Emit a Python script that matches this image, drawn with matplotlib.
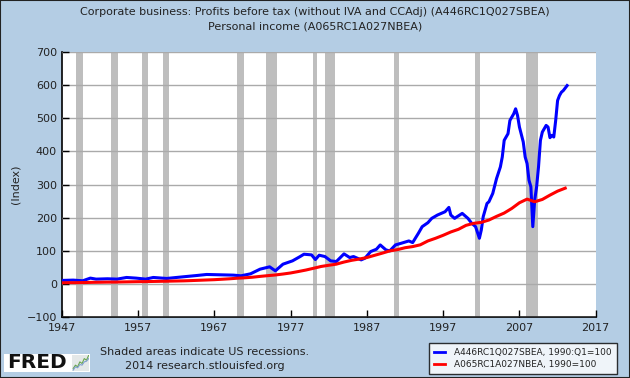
import numpy as np
import matplotlib
matplotlib.use('Agg')
import matplotlib.pyplot as plt
from matplotlib.patches import Rectangle

# Corporate profits before tax (A446RC1Q027SBEA), index 1990:Q1=100
profit_dates = [1947.0, 1948.5, 1949.75, 1950.75, 1951.5, 1953.0, 1954.25, 1955.5, 1956.75,
                1958.0, 1959.0, 1960.75, 1962.5, 1964.75, 1966.0, 1967.75, 1969.5, 1970.5,
                1971.75, 1973.0, 1974.25, 1975.0, 1976.0, 1977.25, 1978.25, 1978.75, 1979.75,
                1980.25, 1980.75, 1981.5, 1982.25, 1983.0, 1984.0, 1984.75, 1985.25, 1986.25,
                1986.75, 1987.5, 1988.25, 1988.75, 1989.5, 1990.0, 1990.75, 1991.5, 1992.5,
                1993.0, 1993.75, 1994.25, 1995.0, 1995.5, 1996.25, 1997.25, 1997.75, 1998.0,
                1998.5, 1999.5, 2000.25, 2000.75, 2001.25, 2001.75, 2002.0, 2002.25, 2002.75,
                2003.0, 2003.5, 2004.0, 2004.5, 2004.75, 2005.0, 2005.5, 2005.75, 2006.25,
                2006.5, 2006.75, 2007.0, 2007.5, 2007.75, 2008.0, 2008.25, 2008.5, 2008.75,
                2009.0, 2009.25, 2009.5, 2009.75, 2010.0, 2010.5, 2010.75, 2011.0, 2011.25,
                2011.5, 2011.75, 2012.0, 2012.25, 2012.5, 2012.75, 2013.25]
profit_index = [11, 12, 10, 18, 15, 16, 15, 20, 18,
                15, 20, 17, 21, 26, 29, 28, 27, 25,
                31, 45, 52, 40, 60, 70, 83, 90, 88,
                74, 87, 83, 70, 68, 91, 80, 83, 73,
                78, 98, 105, 118, 103, 100, 118, 123, 130,
                125, 153, 173, 185, 198, 208, 218, 231, 208,
                198, 213, 198, 183, 173, 138, 163, 203, 243,
                248, 273, 318, 353, 383, 433, 453, 493, 513,
                528, 508, 473, 428, 383, 363, 313, 293, 173,
                253, 293, 353, 433, 458, 478, 473, 441, 448,
                443, 493, 553, 568, 578, 583, 598]

# Personal income (A065RC1A027NBEA), index 1990=100, annual
income_years = list(range(1947, 2014))
income_index = [3.9, 4.3, 4.3, 4.7, 5.3, 5.6, 6.0, 6.0, 6.5, 6.9,
                7.3, 7.5, 8.0, 8.4, 8.8, 9.3, 9.8, 10.6, 11.5, 12.4,
                13.3, 14.6, 16.0, 17.7, 19.0, 20.7, 23.2, 25.4, 27.5, 30.3,
                33.5, 37.8, 42.3, 47.6, 53.1, 56.7, 60.1, 66.4, 71.6, 75.4,
                80.0, 86.6, 93.1, 100.0, 103.8, 109.5, 113.0, 118.3, 130.0, 138.0,
                147.0, 157.0, 165.0, 177.0, 183.0, 186.0, 193.0, 204.0, 214.0, 228.0,
                245.0, 256.0, 248.0, 255.0, 268.0, 280.0, 289.0]

# US recessions (NBER), decimal years
recessions = [(1948.83, 1949.75), (1953.5, 1954.33), (1957.58, 1958.25), (1960.25, 1961.08),
              (1969.92, 1970.83), (1973.83, 1975.17), (1980.0, 1980.5), (1981.5, 1982.83),
              (1990.5, 1991.17), (2001.17, 2001.83), (2007.92, 2009.42)]

series_labels = ['A446RC1Q027SBEA, 1990:Q1=100', 'A065RC1A027NBEA, 1990=100']
x_ticks = list(range(1947, 2018, 10))
y_ticks = list(range(-100, 701, 100))

# little sparkline for the logo
logo_green = [1, 2, 1.5, 3, 2.5, 4, 3.5, 5]
logo_blue = [0.5, 1.5, 1.2, 2.2, 2.0, 3.0, 3.2, 4.0]

bg = '#b4cde4'
text_col = '#222222'
fig = plt.figure(figsize=(6.3, 3.78), dpi=100, facecolor=bg)
ax = fig.add_axes([0.098, 0.1606, 0.8476, 0.7026])
ax.set_facecolor('white')

for start, end in recessions:
    ax.axvspan(start, end, color='#bebebe', lw=0, zorder=1)

l1, = ax.plot(profit_dates, profit_index, color='#0000ff', lw=2.2, zorder=3)
l2, = ax.plot(income_years, income_index, color='#ff0000', lw=2.2, zorder=4)

ax.set_xlim(1947, 2017)
ax.set_ylim(-100, 700)
ax.set_xticks(x_ticks)
ax.set_yticks(y_ticks)
ax.yaxis.grid(True, color='#aaaaaa', lw=1)
ax.set_axisbelow(False)
for gl in ax.get_ygridlines():
    gl.set_zorder(2)
ax.tick_params(direction='in', length=5, width=1, labelsize=8, color='black', labelcolor=text_col)
ax.tick_params(axis='x', pad=4)
ax.spines['top'].set_visible(False)
ax.spines['right'].set_visible(False)
ax.spines['left'].set_linewidth(1.2)
ax.spines['bottom'].set_linewidth(1.2)
ax.set_ylabel('(Index)', fontsize=8, color=text_col, labelpad=4)

fig.text(0.5, 0.968, 'Corporate business: Profits before tax (without IVA and CCAdj) (A446RC1Q027SBEA)',
         ha='center', va='center', fontsize=8, color=text_col)
fig.text(0.5, 0.929, 'Personal income (A065RC1A027NBEA)',
         ha='center', va='center', fontsize=8, color=text_col)

fig.text(0.325, 0.069, 'Shaded areas indicate US recessions.', ha='center', va='center',
         fontsize=8, color=text_col)
fig.text(0.325, 0.031, '2014 research.stlouisfed.org', ha='center', va='center',
         fontsize=8, color=text_col)

# FRED logo
fig.patches.append(Rectangle((0.007, 0.016), 0.136, 0.048, transform=fig.transFigure,
                             facecolor='white', edgecolor='none'))
fig.text(0.011, 0.040, 'FRED', ha='left', va='center', fontsize=14.5, fontweight='heavy',
         color='#111111')
lax = fig.add_axes([0.115, 0.019, 0.027, 0.043], zorder=5)
lax.set_facecolor('#e4e8e8')
lax.plot(logo_green, color='#6aa84f', lw=0.8)
lax.plot(logo_blue, color='#7f9fcf', lw=0.8)
lax.set_xticks([])
lax.set_yticks([])
for s in lax.spines.values():
    s.set_visible(False)

# legend box
leg = ax.legend([l1, l2], series_labels,
                loc='lower right', bbox_to_anchor=(0.979, 0.011), bbox_transform=fig.transFigure,
                borderaxespad=0, fontsize=6.5, frameon=True, fancybox=False, edgecolor='black',
                handlelength=1.2, borderpad=0.55, labelspacing=0.35, handletextpad=1.0)
leg.get_frame().set_linewidth(1.0)
for h in leg.get_lines():
    h.set_linewidth(2)
for t in leg.get_texts():
    t.set_color(text_col)

fig.patches.append(Rectangle((0, 0), 1, 1, transform=fig.transFigure, fill=False,
                             edgecolor=text_col, lw=1.5))

fig.savefig('out.png', dpi=100, facecolor=bg)
